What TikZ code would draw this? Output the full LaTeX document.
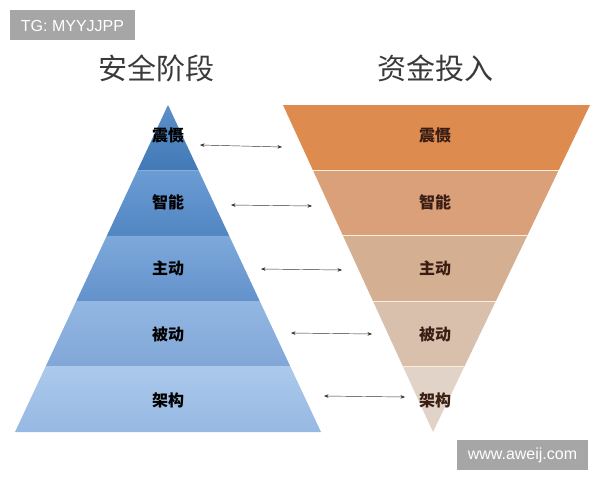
\documentclass[tikz,border=0pt]{standalone}
\usepackage{fontspec}
\newfontfamily\cjk{Noto Sans CJK SC}
\setsansfont{Liberation Sans}
\usetikzlibrary{calc,arrows.meta}
\definecolor{boxgray}{HTML}{A6A6A6}
\definecolor{titlegray}{HTML}{3A3A3A}
\definecolor{rtext}{HTML}{3A1E14}
\definecolor{bA1}{HTML}{5B8FC9}\definecolor{bA2}{HTML}{4279B6}
\definecolor{bB1}{HTML}{6C9CD4}\definecolor{bB2}{HTML}{5186C2}
\definecolor{bC1}{HTML}{7DA9DC}\definecolor{bC2}{HTML}{6391CA}
\definecolor{bD1}{HTML}{93B7E2}\definecolor{bD2}{HTML}{80A7D7}
\definecolor{bE1}{HTML}{ABC9EC}\definecolor{bE2}{HTML}{96B8E2}
\definecolor{oA}{HTML}{DD8B4F}
\definecolor{oB}{HTML}{D9A07A}
\definecolor{oC}{HTML}{D5AF91}
\definecolor{oD}{HTML}{D9C0AC}
\definecolor{oE}{HTML}{E1D3C7}
\tikzset{
  wm/.style={text=white, font=\sffamily\fontsize{16}{16}\selectfont},
  title/.style={font=\cjk\fontsize{29}{29}\selectfont, text=titlegray},
  llab/.style={font=\cjk\bfseries\fontsize{16}{16}\selectfont, text=black},
  rlab/.style={font=\cjk\bfseries\fontsize{16}{16}\selectfont, text=rtext},
  link/.style={draw=black!80, line width=0.45pt, {Stealth[length=4.5pt,width=3.5pt]}-{Stealth[length=4.5pt,width=3.5pt]}},
  sep/.style={draw=white!85!orange, line width=1pt}
}
\begin{document}
\begin{tikzpicture}[x=1pt,y=-1pt]
\useasboundingbox (0,0) rectangle (600,480);
% watermark boxes
\fill[boxgray] (10,10) rectangle (135,40);
\node[wm] (tg) at (72.5,25.5) {TG: MYYJJPP};
\fill[boxgray] (457,440) rectangle (588,470);
\node[wm] (www) at (522.5,455.5) {www.aweij.com};
% titles
\node[title] (t1) at (156,68) {安全阶段};
\node[title] (t2) at (435,68) {资金投入};
% left pyramid
\coordinate (LA) at (168,105);
\coordinate (LL) at (15,432);
\coordinate (LR) at (321,432);
\foreach \i/\c in {0/A,1/B,2/C,3/D,4/E}{
  \pgfmathsetmacro{\ta}{\i/5}
  \pgfmathsetmacro{\tb}{(\i+1)/5}
  \shade[top color=b\c1, bottom color=b\c2]
    ($(LA)!\ta!(LL)$) -- ($(LA)!\tb!(LL)$) -- ($(LA)!\tb!(LR)$) -- ($(LA)!\ta!(LR)$) -- cycle;
}
% right inverted pyramid
\coordinate (RL) at (283,105);
\coordinate (RR) at (590,105);
\coordinate (RA) at (433,432);
\foreach \i/\c in {0/A,1/B,2/C,3/D,4/E}{
  \pgfmathsetmacro{\ta}{\i/5}
  \pgfmathsetmacro{\tb}{(\i+1)/5}
  \fill[o\c]
    ($(RL)!\ta!(RA)$) -- ($(RL)!\tb!(RA)$) -- ($(RR)!\tb!(RA)$) -- ($(RR)!\ta!(RA)$) -- cycle;
}
\foreach \i in {1,2,3,4}{
  \pgfmathsetmacro{\ta}{\i/5}
  \draw[sep] ($(RL)!\ta!(RA)$) -- ($(RR)!\ta!(RA)$);
}
% labels
\node[llab] (l1) at (168,135) {震慑};
\node[llab] (l2) at (168,202) {智能};
\node[llab] (l3) at (168,268) {主动};
\node[llab] (l4) at (168,334) {被动};
\node[llab] (l5) at (168,400) {架构};
\node[rlab] (r1) at (435,135) {震慑};
\node[rlab] (r2) at (435,202) {智能};
\node[rlab] (r3) at (435,268) {主动};
\node[rlab] (r4) at (435,334) {被动};
\node[rlab] (r5) at (435,400) {架构};
% arrows
\coordinate (a1) at (200,145); \coordinate (b1) at (282,147);
\coordinate (a2) at (231,205); \coordinate (b2) at (312,206);
\coordinate (a3) at (261,269); \coordinate (b3) at (342,270);
\coordinate (a4) at (291,333); \coordinate (b4) at (372,334);
\coordinate (a5) at (324,396); \coordinate (b5) at (405,397);
\foreach \k in {1,...,5}{ \draw[link] (a\k) -- (b\k); }
\end{tikzpicture}
\end{document}
